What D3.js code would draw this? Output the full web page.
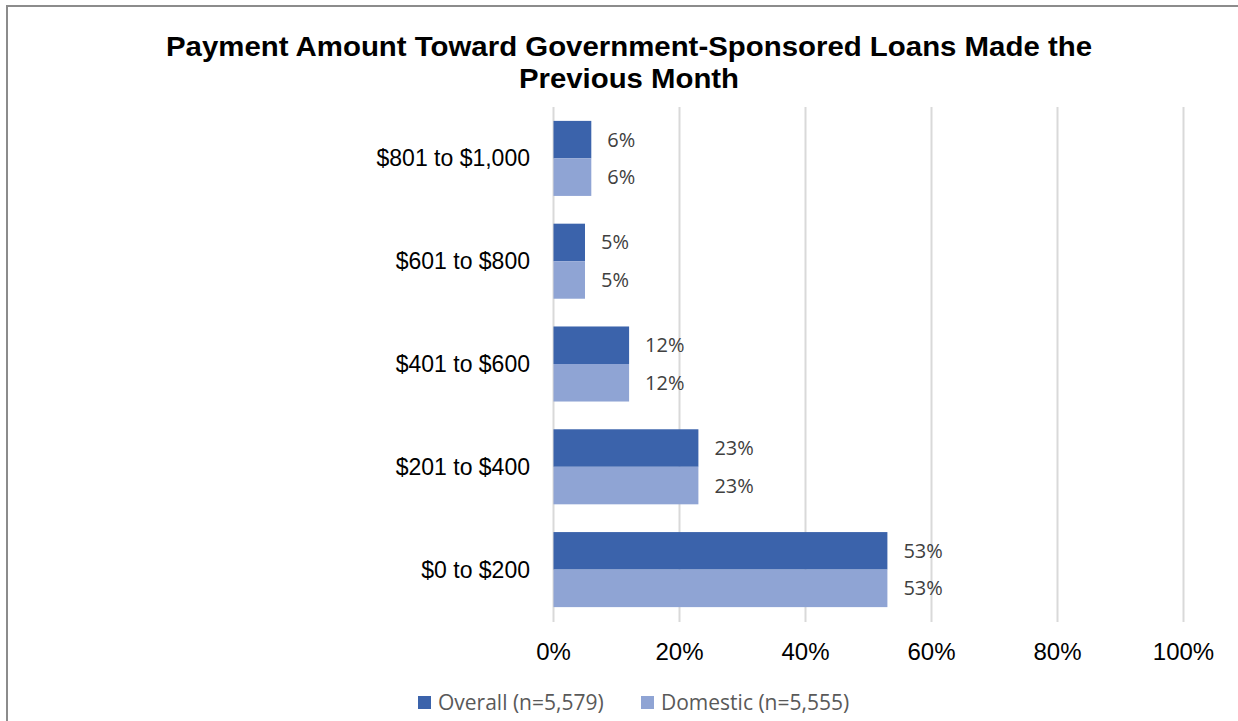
<!DOCTYPE html>
<html>
<head>
<meta charset="utf-8">
<script src="https://cdn.jsdelivr.net/npm/d3@7/dist/d3.min.js"></script>
<style>
  html, body { margin: 0; padding: 0; background: #fff; }
  svg { display: block; }
</style>
</head>
<body>
<svg id="chart" width="1238" height="721"></svg>
<script>
// Payment brackets, listed top to bottom as drawn
const categories = ["$801 to $1,000", "$601 to $800", "$401 to $600", "$201 to $400", "$0 to $200"];
const overall = [6, 5, 12, 23, 53];
const domestic = [6, 5, 12, 23, 53];
const seriesNames = ["Overall (n=5,579)", "Domestic (n=5,555)"];
const tickValues = [0, 20, 40, 60, 80, 100];
const titleLines = ["Payment Amount Toward Government-Sponsored Loans Made the", "Previous Month"];

const colors = ["#3B63AB", "#8FA4D4"];
const svg = d3.select("#chart");

// chart frame
svg.append("rect")
  .attr("x", 7).attr("y", 6)
  .attr("width", 1260).attr("height", 740)
  .attr("fill", "#fff")
  .attr("stroke", "#8c8c8c").attr("stroke-width", 2);

// title, fitted to its line widths
const titleWidths = [926, 220];
svg.append("g").selectAll("text").data(titleLines).join("text")
  .attr("x", (d, i) => 629 - titleWidths[i] / 2)
  .attr("y", (d, i) => 56 + i * 32)
  .attr("textLength", (d, i) => titleWidths[i])
  .attr("lengthAdjust", "spacingAndGlyphs")
  .attr("font-family", "Liberation Sans, Arial, sans-serif")
  .attr("font-weight", "bold")
  .attr("font-size", 28)
  .attr("fill", "#000")
  .text(d => d);

const x = d3.scaleLinear().domain([0, 100]).range([553.5, 1183.5]);
const y = d3.scaleBand().domain(categories).range([107, 621]).paddingInner(0.27).paddingOuter(0.135);
const sub = d3.scaleBand().domain([0, 1]).range([0, y.bandwidth()]);

// vertical gridlines
svg.append("g").selectAll("line").data(tickValues).join("line")
  .attr("x1", d => x(d)).attr("x2", d => x(d))
  .attr("y1", 107).attr("y2", 622)
  .attr("stroke", "#d9d9d9").attr("stroke-width", 2);

// x axis tick labels
svg.append("g").selectAll("text").data(tickValues).join("text")
  .attr("x", d => x(d)).attr("y", 660)
  .attr("text-anchor", "middle")
  .attr("font-family", "Liberation Sans, Arial, sans-serif")
  .attr("font-size", 24)
  .attr("fill", "#000")
  .text(d => d + "%");

// category labels
svg.append("g").selectAll("text").data(categories).join("text")
  .attr("x", 530).attr("y", d => y(d) + y.bandwidth() / 2)
  .attr("dy", "0.35em")
  .attr("text-anchor", "end")
  .attr("font-family", "Liberation Sans, Arial, sans-serif")
  .attr("font-size", 23)
  .attr("fill", "#000")
  .text(d => d);

const rows = categories.map((c, i) => ({ cat: c, vals: [overall[i], domestic[i]] }));

const groups = svg.append("g").selectAll("g").data(rows).join("g")
  .attr("transform", d => `translate(0,${y(d.cat)})`);

groups.selectAll("rect").data(d => d.vals.map((v, k) => ({ v, k }))).join("rect")
  .attr("x", x(0))
  .attr("y", d => sub(d.k))
  .attr("width", d => x(d.v) - x(0))
  .attr("height", sub.bandwidth())
  .attr("fill", d => colors[d.k]);

groups.selectAll("text").data(d => d.vals.map((v, k) => ({ v, k }))).join("text")
  .attr("x", d => x(d.v) + 16)
  .attr("y", d => sub(d.k) + sub.bandwidth() / 2)
  .attr("dy", "0.35em")
  .attr("font-family", "Open Sans, Lato, sans-serif")
  .attr("font-size", 20)
  .attr("fill", "#404040")
  .text(d => d.v + "%");

// legend
const legend = svg.append("g").selectAll("g").data(seriesNames).join("g")
  .attr("transform", (d, i) => `translate(${i === 0 ? 418 : 641},696)`);
legend.append("rect")
  .attr("width", 13).attr("height", 13)
  .attr("fill", (d, i) => colors[i]);
legend.append("text")
  .attr("x", 20).attr("y", 7).attr("dy", "0.35em")
  .attr("font-family", "Open Sans, Lato, sans-serif")
  .attr("font-size", 21)
  .attr("fill", "#595959")
  .text(d => d);
</script>
</body>
</html>
